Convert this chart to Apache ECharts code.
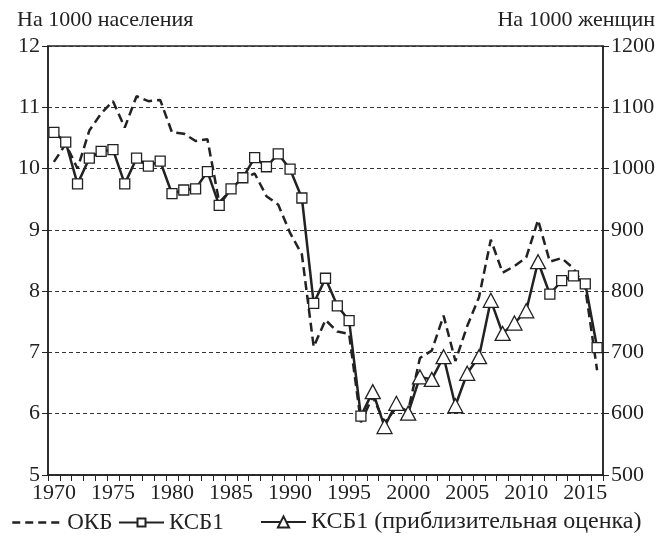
<!DOCTYPE html>
<html>
<head>
<meta charset="utf-8">
<script src="https://cdn.jsdelivr.net/npm/echarts@6/dist/echarts.min.js"></script>
<style>html,body{margin:0;padding:0;background:#fff}#c{width:658px;height:542px}</style>
</head>
<body>
<div id="c"></div>
<script>
var years = [];
for (var y = 1970; y <= 2016; y++) years.push(String(y));

var okb = [10.11,10.40,10.00,10.62,10.90,11.10,10.67,11.18,11.10,11.12,
           10.59,10.57,10.45,10.48,9.45,9.65,9.83,9.92,9.55,9.41,
           8.95,8.60,7.09,7.53,7.34,7.30,5.86,6.28,5.85,6.10,
           6.05,6.91,7.03,7.60,6.86,7.43,7.90,8.84,8.30,8.41,
           8.55,9.16,8.48,8.54,8.37,8.05,6.71];

var ksb1 = [10.59,10.43,9.75,10.17,10.28,10.31,9.75,10.17,10.04,10.12,
            9.59,9.65,9.67,9.95,9.40,9.67,9.85,10.18,10.03,10.24,
            9.99,9.52,7.80,8.21,7.76,7.52,5.96,null,null,null,
            null,null,null,null,null,null,null,null,null,null,
            null,null,7.95,8.17,8.25,8.12,7.08];

var ksb1Approx = [null,null,null,null,null,null,null,null,null,null,
                  null,null,null,null,null,null,null,null,null,null,
                  null,null,null,null,null,null,null,6.36,5.79,6.17,
                  6.01,6.60,6.56,6.93,6.13,6.66,6.93,7.85,7.31,7.48,
                  7.68,8.48,null,null,null,null,null];

var leftTicks = [5,6,7,8,9,10,11,12];
var rightTicks = [500,600,700,800,900,1000,1100,1200];

// connect the approximate segment to neighbouring KSB1 points (no symbol there)
var approxData = ksb1Approx.map(function (v, i) {
  if (v !== null) return v;
  var prevA = i > 0 ? ksb1Approx[i - 1] : null;
  var nextA = i < ksb1Approx.length - 1 ? ksb1Approx[i + 1] : null;
  if ((prevA !== null || nextA !== null) && ksb1[i] !== null) {
    return { value: ksb1[i], symbol: 'none' };
  }
  return null;
});

var FONT = 'Liberation Serif';
var FS = 22;
var FSL = 23;
var INK = '#222';

var chart = echarts.init(document.getElementById('c'), null, { renderer: 'canvas' });
chart.setOption({
  animation: false,
  textStyle: { fontFamily: FONT, color: INK },
  grid: { left: 48, right: 55, top: 46, bottom: 67, show: true, borderColor: INK, borderWidth: 1.5, backgroundColor: 'transparent' },
  graphic: [
    { type: 'text', left: 17, top: 9, style: { text: 'На 1000 населения', font: FS + 'px "' + FONT + '"', fill: INK } },
    { type: 'text', right: 3, top: 9, style: { text: 'На 1000 женщин', font: FS + 'px "' + FONT + '"', fill: INK } }
  ],
  legend: [
    { data: ['ОКБ'], left: 6, top: 506, itemWidth: 50, itemHeight: 12, itemGap: 4,
      itemStyle: { color: 'rgba(0,0,0,0)', borderWidth: 0, opacity: 0 },
      lineStyle: { color: INK, width: 2.5, type: [8, 5] },
      textStyle: { fontFamily: FONT, fontSize: FSL, color: INK } },
    { data: ['КСБ1'], left: 113, top: 506, itemWidth: 45, itemHeight: 10, itemGap: 4,
      textStyle: { fontFamily: FONT, fontSize: FSL, color: INK } },
    { data: ['КСБ1 (приблизительная оценка)'], left: 255, top: 505, itemWidth: 45, itemHeight: 14, itemGap: 4,
      textStyle: { fontFamily: FONT, fontSize: 24, color: INK } }
  ],
  xAxis: {
    type: 'category',
    data: years,
    boundaryGap: true,
    axisLine: { lineStyle: { color: INK, width: 1.5 } },
    axisTick: { show: true, interval: 0, length: 6, inside: false, lineStyle: { color: INK, width: 1 } },
    axisLabel: { interval: 4, fontFamily: FONT, fontSize: FS, color: INK, margin: 7 },
    splitLine: { show: false }
  },
  yAxis: [
    {
      type: 'value', min: leftTicks[0], max: leftTicks[leftTicks.length - 1], interval: 1, position: 'left',
      axisLine: { show: true, lineStyle: { color: INK, width: 1.5 } },
      axisTick: { show: true, length: 6, lineStyle: { color: INK } },
      axisLabel: { fontFamily: FONT, fontSize: FS, color: INK, margin: 8 },
      splitLine: { show: true, lineStyle: { color: '#333', width: 1, type: [4, 3] } }
    },
    {
      type: 'value', min: rightTicks[0], max: rightTicks[rightTicks.length - 1], interval: 100, position: 'right',
      axisLine: { show: true, lineStyle: { color: INK, width: 1.5 } },
      axisTick: { show: true, length: 6, lineStyle: { color: INK } },
      axisLabel: { fontFamily: FONT, fontSize: FS, color: INK, margin: 8, formatter: function (v) { return String(v); } },
      splitLine: { show: false }
    }
  ],
  series: [
    {
      name: 'ОКБ', type: 'line', data: okb, symbol: 'none', z: 2,
      lineStyle: { color: INK, width: 2.5, type: [9, 5] },
      itemStyle: { color: INK }
    },
    {
      name: 'КСБ1 (приблизительная оценка)', type: 'line', data: approxData,
      symbol: 'triangle', symbolSize: [15, 14], showAllSymbol: true, z: 3,
      lineStyle: { color: INK, width: 2.5 },
      itemStyle: { color: '#fff', borderColor: INK, borderWidth: 1.3 }
    },
    {
      name: 'КСБ1', type: 'line', data: ksb1,
      symbol: 'rect', symbolSize: 10, showAllSymbol: true, z: 4,
      lineStyle: { color: INK, width: 2.5 },
      itemStyle: { color: '#fff', borderColor: INK, borderWidth: 1.3 }
    }
  ]
});
</script>
</body>
</html>
